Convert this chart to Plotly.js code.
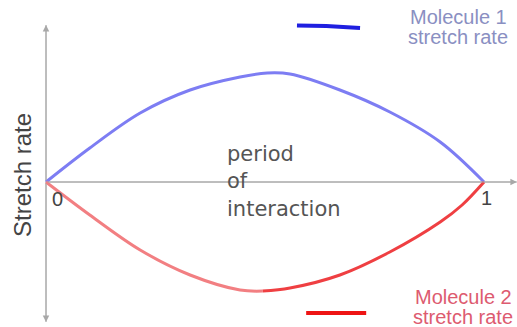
<!DOCTYPE html>
<html><head><meta charset="utf-8">
<script src="https://cdn.plot.ly/plotly-3.0.1.min.js"></script>
<style>html,body{margin:0;padding:0;background:#fff}#c{width:517px;height:327px}</style>
</head><body><div id="c"></div>
<script>
// Molecule 1 (upper curve)
const m1X = [0, 0.100, 0.215, 0.329, 0.443, 0.505, 0.557, 0.671, 0.785, 0.900, 1];
const m1Y = [0, 0.34, 0.69, 0.92, 1.05, 1.09, 1.08, 0.92, 0.70, 0.40, 0];
// Molecule 2 (lower curve), drawn in two tones
const m2aX = [0, 0.100, 0.215, 0.329, 0.443, 0.495];
const m2aY = [0, -0.33, -0.68, -0.93, -1.08, -1.09];
const m2bX = [0.495, 0.557, 0.671, 0.785, 0.900, 0.950, 1];
const m2bY = [-1.09, -1.06, -0.93, -0.70, -0.40, -0.23, 0];
// legend swatches
const key1X = [0.573, 0.64, 0.717];
const key1Y = [1.565, 1.56, 1.54];
const key2X = [0.594, 0.731];
const key2Y = [-1.31, -1.31];
const tickLabels = ["0", "1"];
const tickVals = [0, 1];

const F = "Liberation Sans";
const sp = {shape: "spline", smoothing: 1, width: 3};
const traces = [
  {x: m1X, y: m1Y, mode: "lines", line: Object.assign({color: "#7d7df3"}, sp), hoverinfo: "skip"},
  {x: m2aX, y: m2aY, mode: "lines", line: Object.assign({color: "#f27f82"}, sp), hoverinfo: "skip"},
  {x: m2bX, y: m2bY, mode: "lines", line: Object.assign({color: "#ef3f42"}, sp), hoverinfo: "skip"},
  {x: key1X, y: key1Y, mode: "lines", line: {color: "#1f1fe0", width: 4}, hoverinfo: "skip"},
  {x: key2X, y: key2Y, mode: "lines", line: {color: "#ee1414", width: 4}, hoverinfo: "skip"}
];
const ax = "#a8a8a8";
function arrow(x, y) {
  return {x: x, y: y, ax: 0, ay: 0, xref: "x", yref: "y", axref: "x", ayref: "y",
    showarrow: true, arrowhead: 2, arrowsize: 1.3, arrowwidth: 1, arrowcolor: ax, text: ""};
}
function txt(t, px, py, size, color, extra) {
  return Object.assign({text: t, xref: "paper", yref: "paper", x: px / 517, y: 1 - py / 327,
    showarrow: false, font: {family: F, size: size, color: color}, xanchor: "center", yanchor: "middle"}, extra || {});
}
const annotations = [
  arrow(0, 1.57), arrow(0, -1.40), arrow(1.075, 0),
  txt("Molecule 1", 458, 17, 20, "#8a8fc2"),
  txt("stretch rate", 458, 37, 20, "#8a8fc2"),
  txt("Molecule 2", 463, 297, 20, "#dd5b70"),
  txt("stretch rate", 463, 317, 20, "#dd5b70"),
  txt("Stretch rate", 22, 175, 24, "#444", {textangle: -90}),
  txt("period<br>of<br>interaction", 225, 181, 21, "#555", {xanchor: "left", align: "left", font: {family: "DejaVu Sans", size: 21, color: "#555"}}),
  {text: tickLabels[0], x: tickVals[0], y: 0, xref: "x", yref: "y", xshift: 11, yshift: -17, showarrow: false, font: {family: F, size: 20, color: "#444"}},
  {text: tickLabels[1], x: tickVals[1], y: 0, xref: "x", yref: "y", xshift: 2, yshift: -16, showarrow: false, font: {family: F, size: 20, color: "#444"}}
];
const layout = {
  width: 517, height: 327, margin: {l: 0, r: 0, t: 0, b: 0},
  paper_bgcolor: "#fff", plot_bgcolor: "#fff", showlegend: false,
  xaxis: {range: [-0.10502, 1.07534], visible: false, fixedrange: true},
  yaxis: {range: [-1.45, 1.82], visible: false, fixedrange: true},
  shapes: [
    {type: "line", xref: "x", yref: "y", x0: 0, x1: 1.075, y0: 0, y1: 0, line: {color: ax, width: 1}, layer: "below"},
    {type: "line", xref: "x", yref: "y", x0: 0, x1: 0, y0: -1.40, y1: 1.57, line: {color: ax, width: 1}, layer: "below"}
  ],
  annotations: annotations
};
Plotly.newPlot("c", traces, layout, {staticPlot: true});
</script></body></html>
